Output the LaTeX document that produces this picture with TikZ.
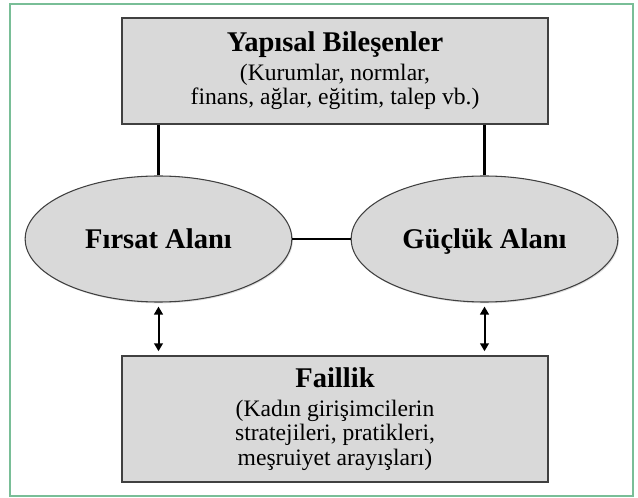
\documentclass[tikz,border=0pt]{standalone}
\usepackage{fontspec}
\setmainfont{Liberation Serif}
\usetikzlibrary{arrows.meta, shapes.geometric, shadows}
\definecolor{boxgray}{HTML}{D9D9D9}
\definecolor{edgegray}{HTML}{404040}
\definecolor{framegreen}{HTML}{79BE97}
\newcommand{\headfont}{\fontsize{21.4}{24}\selectfont\bfseries}
\newcommand{\bodyfont}{\fontsize{17.7}{18.4}\selectfont}

\begin{document}
\begin{tikzpicture}[
    x=0.75pt, y=-0.75pt,
    box/.style={draw=edgegray, line width=1.1pt, fill=boxgray, minimum width=319.5pt,
                align=center, font=\bodyfont, inner sep=0pt,
                drop shadow={shadow xshift=1pt, shadow yshift=-1pt, opacity=0.3}},
    area/.style={ellipse, draw=edgegray, line width=0.8pt, fill=boxgray,
                 minimum width=200pt, minimum height=94.5pt, font=\headfont, inner sep=0pt,
                 text depth=0pt,
                 drop shadow={shadow xshift=0.8pt, shadow yshift=-1pt, opacity=0.25}},
    link/.style={line width=1.8pt},
    arr/.style={{Triangle[length=6pt,width=6.5pt]}-{Triangle[length=6pt,width=6.5pt]}, line width=1.5pt},
    frame/.style={draw=framegreen, line width=1.4pt},
  ]
  \useasboundingbox (0,0) rectangle (638,498);

  % Frame
  \draw[frame] (10,4) rectangle (633,496);

  % Structure
  \node[box, minimum height=79.5pt] (yapisal) at (335,71)
    {{\headfont Yapısal Bileşenler}\\[3pt](Kurumlar, normlar,\\finans, ağlar, eğitim, talep vb.)};

  % Two areas
  \node[area] (firsat) at (158.5,239) {Fırsat Alanı};
  \node[area] (gucluk) at (484.5,239) {Güçlük Alanı};

  % Agency
  \node[box, minimum height=94.5pt] (faillik) at (335,419)
    {{\headfont Faillik}\\[3pt](Kadın girişimcilerin\\stratejileri, pratikleri,\\meşruiyet arayışları)};

  % Links
  \draw[link] (firsat.north) -- (firsat.north |- yapisal.south);
  \draw[link] (gucluk.north) -- (gucluk.north |- yapisal.south);
  \draw[link] (firsat.east) -- (gucluk.west);
  \draw[arr] ([yshift=-3pt]firsat.south) -- ([yshift=3pt]firsat.south |- faillik.north);
  \draw[arr] ([yshift=-3pt]gucluk.south) -- ([yshift=3pt]gucluk.south |- faillik.north);

\end{tikzpicture}
\end{document}
